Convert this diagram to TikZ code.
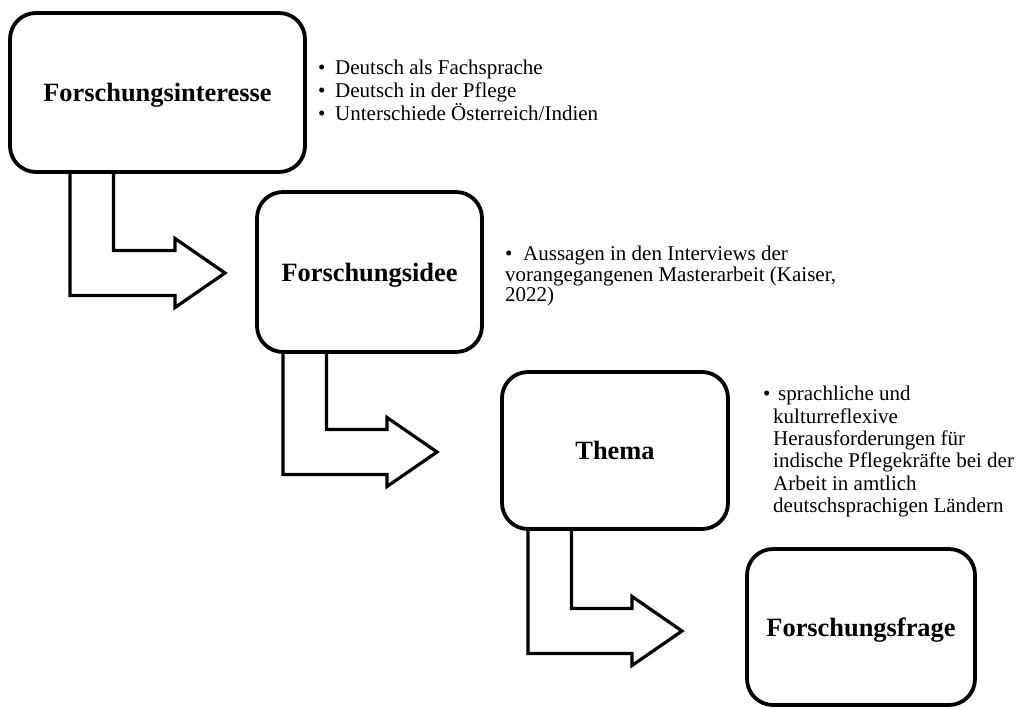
\documentclass[tikz,border=0pt]{standalone}
\usepackage{fontspec}
\setmainfont{Liberation Serif}
\usetikzlibrary{positioning,calc}
\tikzset{
  stage/.style={rectangle, rounded corners=26pt, draw=black, line width=3.8pt, outer sep=0pt, inner sep=0pt, text depth=0pt, align=center, font=\fontsize{26.4}{30}\selectfont\bfseries},
  bentarr/.style={draw=black, line width=3.2pt, line join=miter},
  note/.style={align=left, inner sep=0pt, anchor=base west},
}

\begin{document}
\begin{tikzpicture}[x=1pt, y=1pt]
  \useasboundingbox (0,0) rectangle (1019,707);
  \node[stage, minimum width=295pt, minimum height=159pt] (interesse) at (157.5,614.5) {Forschungsinteresse};
  \node[stage, minimum width=225pt, minimum height=160pt, below right=20pt and -48pt of interesse] (idee) {Forschungsidee};
  \node[stage, minimum width=226pt, minimum height=157pt, below right=20pt and 20pt of idee] (thema) {Thema};
  \node[stage, minimum width=228pt, minimum height=156pt, below right=20pt and 19pt of thema] (frage) {Forschungsfrage};
  % bullet notes beside the boxes (base = last line)
  \node[note, font=\fontsize{21}{23}\selectfont] (interessenotiz) at ([xshift=13pt,yshift=-108pt]interesse.north east)
    {\makebox[17pt][l]{\textbullet}Deutsch als Fachsprache\\\makebox[17pt][l]{\textbullet}Deutsch in der Pflege\\\makebox[17pt][l]{\textbullet}Unterschiede Österreich/Indien};
  \node[note, font=\fontsize{21}{20.5}\selectfont] (ideenotiz) at ([xshift=23pt,yshift=-110pt]idee.north east)
    {\makebox[18pt][l]{\textbullet}Aussagen in den Interviews der\\vorangegangenen Masterarbeit (Kaiser,\\2022)};
  \node[note, font=\fontsize{21}{22.3}\selectfont] (themanotiz) at ([xshift=35pt,yshift=-140.5pt]thema.north east)
    {\makebox[15pt][l]{\textbullet}sprachliche und\\\hspace*{10pt}kulturreflexive\\\hspace*{10pt}Herausforderungen für\\\hspace*{10pt}indische Pflegekräfte bei der\\\hspace*{10pt}Arbeit in amtlich\\\hspace*{10pt}deutschsprachigen Ländern};
  % bent block arrows
  \foreach \von/\nach/\dx/\gap/\dy in {interesse/idee/60/32/-1, idee/thema/26/65/-1.5, thema/frage/26/65/-4}
    \draw[bentarr] ([xshift=\dx pt]\von.south west) |- ($(\nach.west)+(-\gap-50,\dy-22.5)$) -- ++(0,-12)
      -- ($(\nach.west)+(-\gap,\dy)$) -- ++(-50,34.5) -- ++(0,-12) -| ([xshift=\dx pt+43.5pt]\von.south west);
\end{tikzpicture}
\end{document}
